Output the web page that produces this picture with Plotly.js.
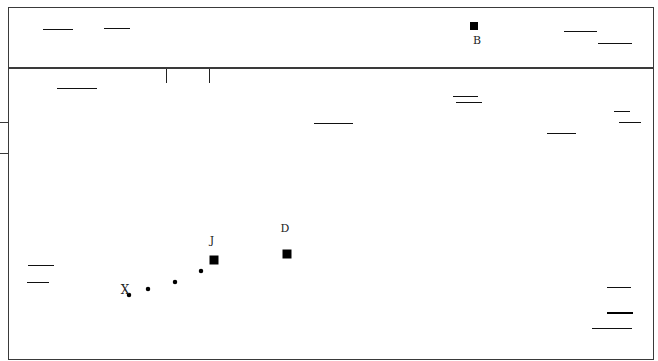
<!DOCTYPE html>
<html><head><meta charset="utf-8">
<script src="https://cdn.plot.ly/plotly-3.0.1.min.js"></script>
<style>html,body{margin:0;padding:0;background:#fff}#c{width:658px;height:361px}
.scatterlayer .lines path{shape-rendering:crispEdges}
.scatterlayer .points path.square{shape-rendering:crispEdges}
.crisp{shape-rendering:crispEdges}
</style>
</head><body><div id="c"></div>
<script>
// Top panel segments
const topSegStart = [34, 95, 555, 589];
const topSegEnd   = [64, 121, 588, 623];
const topSegLevel = [39, 40, 37, 25];
// Bottom panel segments (thin)
const botSegStart = [48, 444, 447, 605, 610, 305, 538, 19, 18, 598, 583];
const botSegEnd   = [88, 469, 473, 621, 632, 344, 567, 45, 40, 622, 623];
const botSegLevel = [271, 263, 257, 248, 237, 236, 226, 94, 77, 72, 31];
// Bottom panel thick segment
const thickSegStart = [598];
const thickSegEnd   = [624];
const thickSegLevel = [46];
// Square points
const topSquareX = [465], topSquareY = [42], topSquareLabel = ['B'];
const squareX = [205, 278], squareY = [99, 105], squareLabel = ['J', 'D'];
// Dots
const dotX = [120, 139, 166, 192];
const dotY = [64, 70, 77, 88];
const dotLabelX = [116], dotLabelY = [68], dotLabel = ['X'];
// Label positions
const topLabelX = [468], topLabelY = [27];
const squareLabelX = [203, 276], squareLabelY = [118, 130];
// Axis tick positions
const leftTicks = [237, 206];
const topPanelTicks = [157, 200];

function segs(s, e, l) {
  const x = [], y = [];
  for (let i = 0; i < s.length; i++) { x.push(s[i], e[i], null); y.push(l[i], l[i], null); }
  return {x, y};
}
const lc = '#111';
const fnt = {family: 'DejaVu Serif, Liberation Serif, serif', size: 11, color: '#222'};
const t1 = segs(topSegStart, topSegEnd, topSegLevel);
const b1 = segs(botSegStart, botSegEnd, botSegLevel);
const b2 = segs(thickSegStart, thickSegEnd, thickSegLevel);

const data = [
  {x: t1.x, y: t1.y, xaxis: 'x2', yaxis: 'y2', mode: 'lines', line: {color: lc, width: 1}, hoverinfo: 'skip'},
  {x: b1.x, y: b1.y, mode: 'lines', line: {color: lc, width: 1}, hoverinfo: 'skip'},
  {x: b2.x, y: b2.y, mode: 'lines', line: {color: '#000', width: 2}, hoverinfo: 'skip'},
  {x: topSquareX, y: topSquareY, xaxis: 'x2', yaxis: 'y2', mode: 'markers', marker: {symbol: 'square', size: 8, color: '#000'}},
  {x: topLabelX, y: topLabelY, xaxis: 'x2', yaxis: 'y2', mode: 'text', text: topSquareLabel, textfont: fnt},
  {x: squareX, y: squareY, mode: 'markers', marker: {symbol: 'square', size: 9, color: '#000'}},
  {x: squareLabelX, y: squareLabelY, mode: 'text', text: squareLabel, textfont: fnt},
  {x: dotX, y: dotY, mode: 'markers', marker: {symbol: 'circle', size: 4.5, color: '#000'}},
  {x: dotLabelX, y: dotLabelY, mode: 'text', text: dotLabel, textfont: {family: fnt.family, size: 12, color: '#222'}}
];
const frame = '#3a3a3a';
const layout = {
  width: 658, height: 361,
  margin: {l: 9, r: 5, t: 8, b: 2, pad: 0},
  showlegend: false,
  paper_bgcolor: '#fff', plot_bgcolor: '#fff',
  xaxis: {domain: [0, 1], range: [0, 644], showgrid: false, zeroline: false, showline: true, mirror: true,
          linecolor: frame, linewidth: 1, ticks: '', showticklabels: false},
  yaxis: {domain: [0, 291/351], range: [0, 291], showgrid: false, zeroline: false, showline: true, mirror: true,
          linecolor: frame, linewidth: 1, tickmode: 'array', tickvals: leftTicks, ticks: 'outside', ticklen: 9,
          tickcolor: frame, tickwidth: 1, showticklabels: false},
  xaxis2: {domain: [0, 1], range: [0, 644], anchor: 'y2', showgrid: false, zeroline: false, showline: true, mirror: true,
           linecolor: frame, linewidth: 1, tickmode: 'array', tickvals: topPanelTicks, ticks: 'outside', ticklen: 14,
           tickcolor: '#222', tickwidth: 1, showticklabels: false},
  yaxis2: {domain: [291/351, 1], range: [0, 60], anchor: 'x2', showgrid: false, zeroline: false, showline: true, mirror: true,
           linecolor: frame, linewidth: 1, ticks: '', showticklabels: false}
};
Plotly.newPlot('c', data, layout, {displayModeBar: false, staticPlot: true});
</script></body></html>
